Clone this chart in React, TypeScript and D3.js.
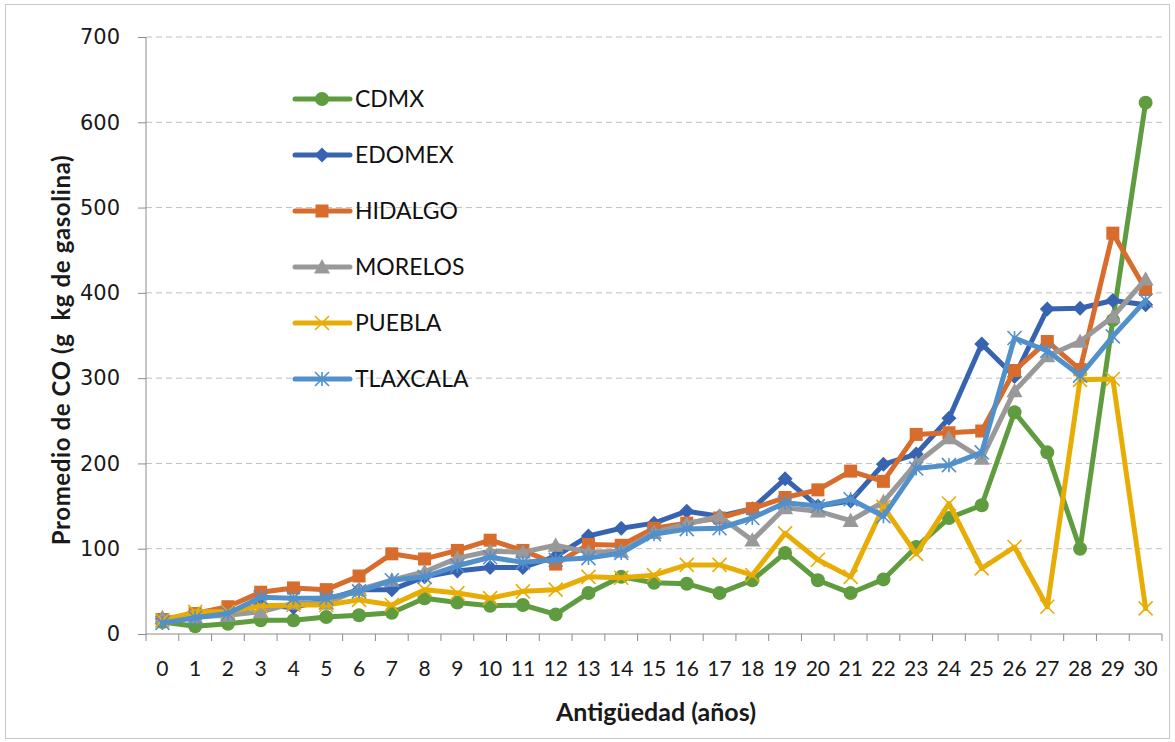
import React, { useEffect, useRef } from 'react';
import * as d3 from 'd3';

// antigüedad (años)
const years = d3.range(0, 31).map(String);
const yTicks = [0, 100, 200, 300, 400, 500, 600, 700];

const cdmx = [14, 9, 12, 16, 16, 20, 22, 25, 42, 37, 33, 34, 23, 48, 67, 60, 59, 48, 63, 95, 63, 48, 64, 102, 136, 151, 260, 213, 100, 368, 623];
const edomex = [18, 20, 24, 34, 31, 40, 52, 52, 67, 74, 78, 78, 91, 115, 124, 130, 144, 138, 147, 182, 150, 156, 199, 211, 253, 340, 302, 381, 382, 391, 386];
const hidalgo = [17, 24, 32, 49, 54, 52, 68, 94, 88, 98, 110, 98, 82, 105, 104, 124, 130, 136, 147, 160, 169, 191, 179, 234, 236, 238, 309, 343, 310, 470, 404];
const morelos = [19, 20, 22, 26, 36, 36, 52, 63, 73, 89, 97, 96, 104, 96, 97, 119, 129, 138, 110, 148, 144, 133, 155, 200, 230, 206, 285, 326, 343, 372, 416];
const puebla = [16, 26, 26, 33, 34, 34, 40, 34, 52, 48, 42, 50, 52, 67, 66, 69, 81, 81, 69, 118, 87, 67, 149, 94, 153, 77, 102, 32, 298, 299, 30];
const tlaxcala = [13, 19, 24, 43, 42, 42, 50, 63, 67, 80, 90, 84, 87, 89, 95, 117, 123, 124, 136, 154, 150, 158, 138, 194, 198, 213, 347, 332, 303, 349, 391];

const seriesNames = ['CDMX', 'EDOMEX', 'HIDALGO', 'MORELOS', 'PUEBLA', 'TLAXCALA'];
const seriesValues = [cdmx, edomex, hidalgo, morelos, puebla, tlaxcala];
const colors = ['#5f9c3f', '#3863b0', '#d86c2c', '#999999', '#e8ad05', '#5290cc'];
const markers = ['circle', 'diamond', 'square', 'triangle', 'cross', 'asterisk'];

const W = 1175;
const H = 742;
const margin = { top: 37, right: 13, bottom: 108, left: 146 };

function drawMarker(g, type, color, cx, cy, scale = 1) {
  const s = scale;
  if (type === 'circle') {
    g.append('circle').attr('cx', cx).attr('cy', cy).attr('r', 7 * s).attr('fill', color);
  } else if (type === 'diamond') {
    const r = 7.5 * s;
    g.append('path')
      .attr('d', `M${cx},${cy - r}L${cx + r},${cy}L${cx},${cy + r}L${cx - r},${cy}Z`)
      .attr('fill', color);
  } else if (type === 'square') {
    const r = 6.5 * s;
    g.append('rect').attr('x', cx - r).attr('y', cy - r).attr('width', 2 * r).attr('height', 2 * r).attr('fill', color);
  } else if (type === 'triangle') {
    const r = 8 * s;
    g.append('path')
      .attr('d', `M${cx},${cy - r}L${cx + r},${cy + r * 0.8}L${cx - r},${cy + r * 0.8}Z`)
      .attr('fill', color);
  } else if (type === 'cross') {
    const r = 7 * s;
    g.append('path')
      .attr('d', `M${cx - r},${cy - r}L${cx + r},${cy + r}M${cx + r},${cy - r}L${cx - r},${cy + r}`)
      .attr('stroke', color)
      .attr('stroke-width', 1.6);
  } else if (type === 'asterisk') {
    const r = 7 * s;
    g.append('path')
      .attr('d', `M${cx - r},${cy - r}L${cx + r},${cy + r}M${cx + r},${cy - r}L${cx - r},${cy + r}M${cx},${cy - r}L${cx},${cy + r}`)
      .attr('stroke', color)
      .attr('stroke-width', 1.6);
  }
}

const App = () => {
  const ref = useRef(null);

  useEffect(() => {
    const svg = d3.select(ref.current);
    svg.selectAll('*').remove();

    const innerW = W - margin.left - margin.right;
    const innerH = H - margin.top - margin.bottom;

    const x = d3.scaleBand().domain(years).range([margin.left, margin.left + innerW]).paddingInner(0).paddingOuter(0);
    const y = d3.scaleLinear().domain([0, 700]).range([margin.top + innerH, margin.top]);
    const cx = (i) => x(years[i]) + x.bandwidth() / 2;

    // outer border
    svg.append('rect')
      .attr('x', 5.5).attr('y', 4.5).attr('width', W - 11).attr('height', H - 8)
      .attr('fill', '#fff').attr('stroke', '#c8c8c8').attr('stroke-width', 1);

    // gridlines
    svg.append('g')
      .selectAll('line')
      .data(yTicks.filter((d) => d > 0))
      .join('line')
      .attr('x1', margin.left).attr('x2', margin.left + innerW)
      .attr('y1', (d) => y(d)).attr('y2', (d) => y(d))
      .attr('stroke', '#bfbfbf').attr('stroke-width', 1).attr('stroke-dasharray', '6,4');

    // y axis
    const yAxis = svg.append('g')
      .attr('transform', `translate(${margin.left},0)`)
      .call(d3.axisLeft(y).tickValues(yTicks).tickSize(8).tickPadding(18));
    yAxis.select('.domain').attr('stroke', '#8c8c8c').attr('d', `M0,${y(0)}V${y(700)}`);
    yAxis.selectAll('.tick line').attr('stroke', '#8c8c8c');
    yAxis.selectAll('text')
      .attr('font-family', 'Verdana, "DejaVu Sans", sans-serif')
      .attr('font-size', 21)
      .attr('fill', '#1a1a1a');

    // x axis
    const xAxis = svg.append('g')
      .attr('transform', `translate(0,${y(0)})`)
      .call(d3.axisBottom(x).tickSize(0).tickPadding(27));
    xAxis.select('.domain').attr('stroke', '#8c8c8c').attr('d', `M${margin.left},0H${margin.left + innerW}`);
    xAxis.selectAll('text')
      .attr('font-family', 'Lato, "Open Sans", sans-serif')
      .attr('font-size', 21)
      .attr('fill', '#1a1a1a');
    xAxis.append('g')
      .selectAll('line')
      .data(d3.range(0, years.length + 1))
      .join('line')
      .attr('x1', (i) => margin.left + i * x.step())
      .attr('x2', (i) => margin.left + i * x.step())
      .attr('y1', 0).attr('y2', 7)
      .attr('stroke', '#8c8c8c');

    // axis titles
    svg.append('text')
      .attr('x', 656).attr('y', 721)
      .attr('text-anchor', 'middle')
      .attr('font-family', 'Lato, "Open Sans", sans-serif')
      .attr('font-weight', 'bold').attr('font-size', 25)
      .attr('fill', '#1a1a1a')
      .text('Antigüedad (años)');

    svg.append('text')
      .attr('transform', `translate(70,350) rotate(-90)`)
      .attr('text-anchor', 'middle')
      .attr('font-family', 'Lato, "Open Sans", sans-serif')
      .attr('font-weight', 'bold').attr('font-size', 24)
      .attr('letter-spacing', 0.6)
      .attr('fill', '#1a1a1a')
      .attr('xml:space', 'preserve')
      .text('Promedio de CO (g  kg de gasolina)');

    // series
    const line = d3.line().x((d, i) => cx(i)).y((d) => y(d));
    seriesValues.forEach((vals, si) => {
      const g = svg.append('g');
      g.append('path')
        .attr('d', line(vals))
        .attr('fill', 'none')
        .attr('stroke', colors[si])
        .attr('stroke-width', 5)
        .attr('stroke-linejoin', 'round')
        .attr('stroke-linecap', 'round');
      vals.forEach((v, i) => drawMarker(g, markers[si], colors[si], cx(i), y(v)));
    });

    // legend
    const legend = svg.append('g');
    seriesNames.forEach((name, i) => {
      const ly = 99 + i * 56;
      legend.append('line')
        .attr('x1', 295).attr('x2', 350).attr('y1', ly).attr('y2', ly)
        .attr('stroke', colors[i]).attr('stroke-width', 5).attr('stroke-linecap', 'round');
      drawMarker(legend, markers[i], colors[i], 322, ly);
      legend.append('text')
        .attr('x', 355).attr('y', ly + 8)
        .attr('font-family', 'Lato, "Open Sans", sans-serif')
        .attr('font-size', 23)
        .attr('fill', '#111')
        .text(name);
    });
  }, []);

  return (
    <svg
      ref={ref}
      width={W}
      height={H}
      style={{ position: 'absolute', left: 0, top: 0, background: '#fff' }}
    />
  );
};

export default App;
